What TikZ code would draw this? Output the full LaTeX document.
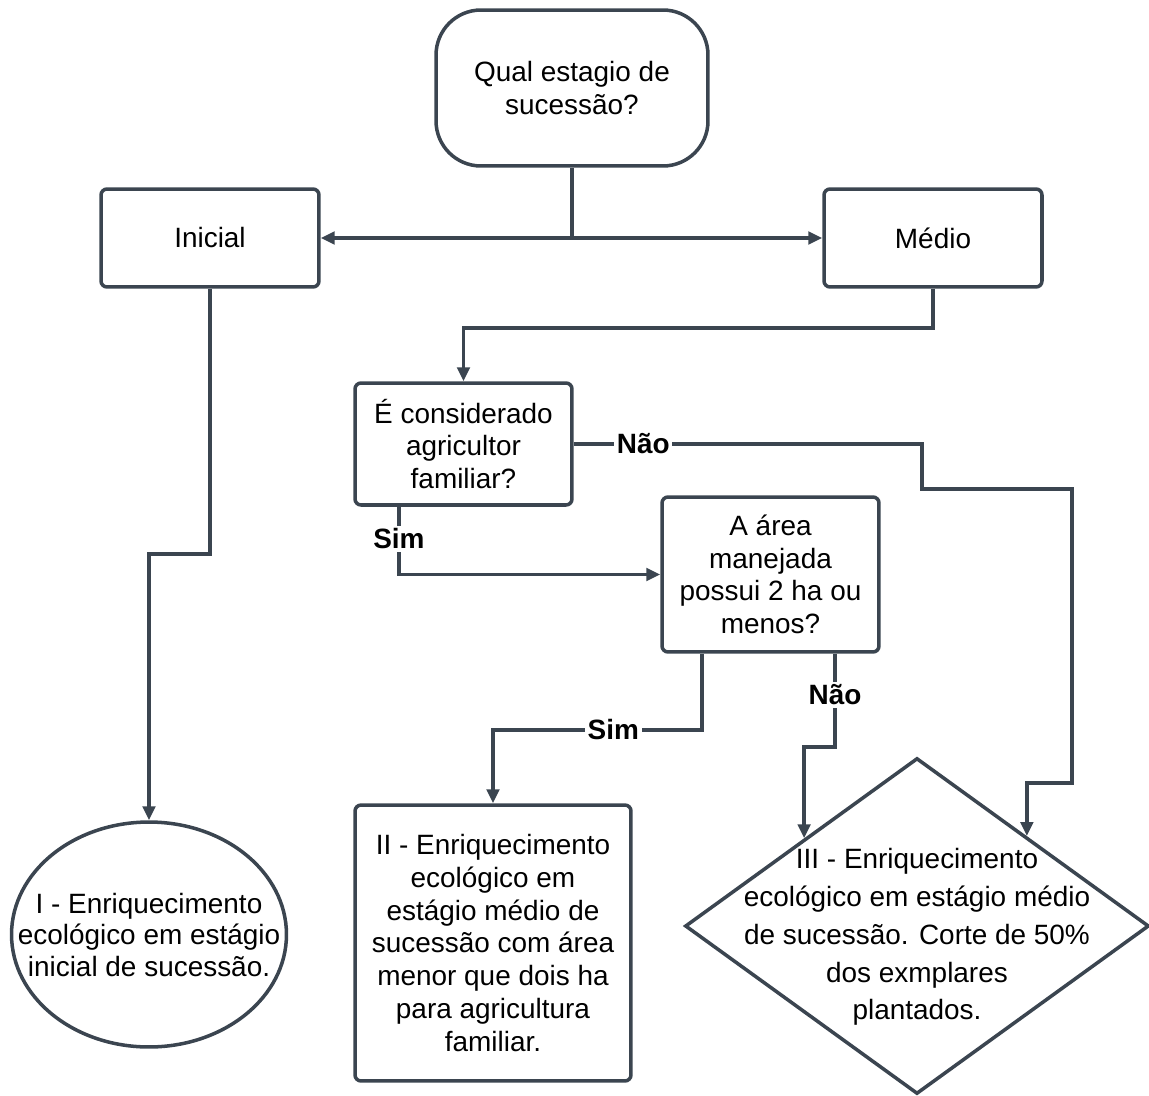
\documentclass[tikz,border=0pt]{standalone}
\usepackage{fontspec}
\setmainfont{Liberation Sans}
\usetikzlibrary{arrows.meta,shapes.geometric,calc}
\definecolor{linec}{RGB}{59,69,80}
\begin{document}
\begin{tikzpicture}[x=0.02cm,y=-0.02cm,
 every node/.style={font=\fontsize{15.9pt}{18.6pt}\selectfont, text=black},
 box/.style={draw=linec, line width=2pt, rounded corners=0.12cm, fill=white, align=center, inner sep=0pt},
 arr/.style={draw=linec, line width=2pt, -{Triangle[length=0.28cm,width=0.25cm]}},
 ln/.style={draw=linec, line width=2pt},
 lbl/.style={font=\bfseries\fontsize{15.9pt}{18.8pt}\selectfont, fill=white, inner sep=1.5pt}]
\useasboundingbox (0,0) rectangle (1149,1095);

\node[box, rounded corners=0.9cm, minimum width=5.44cm, minimum height=3.12cm] (q) at (572,88) {Qual estagio de\\sucessão?};
\node[box, minimum width=4.36cm, minimum height=1.96cm] (ini) at (210,238) {Inicial};
\node[box, minimum width=4.36cm, minimum height=1.96cm] (med) at (933,238) {Médio};
\node[box, minimum width=4.34cm, minimum height=2.44cm] (e) at (463.5,444) {É considerado\\agricultor\\familiar?};
\node[box, minimum width=4.34cm, minimum height=3.1cm] (a) at (770.5,574.5) {A área\\manejada\\possui 2 ha ou\\menos?};
\node[box, minimum width=5.52cm, minimum height=5.52cm] (ii) at (493,943) {II - Enriquecimento\\ecológico em\\estágio médio de\\sucessão com área\\menor que dois ha\\para agricultura\\familiar.};
\node[ellipse, draw=linec, line width=2pt, fill=white, minimum width=5.5cm, minimum height=4.5cm, inner sep=0pt] (c1) at (149,934.5) {};
\node[align=center, inner sep=0pt, font=\fontsize{15.9pt}{17.9pt}\selectfont] (c1t) at (149,935) {I - Enriquecimento\\ecológico em estágio\\inicial de sucessão.};
\node[diamond, draw=linec, line width=2pt, fill=white, minimum width=9.28cm, minimum height=6.72cm, inner sep=0pt] (d3) at (917,926) {};
\node[align=center, inner sep=0pt, font=\fontsize{15.9pt}{21.5pt}\selectfont] (d3t) at (917,937) {III - Enriquecimento\\ecológico em estágio médio\\de sucessão. Corte de 50\%\\dos exmplares\\plantados.};

\draw[ln] (q.south) -- (q.south |- ini.east) coordinate (sp);
\draw[arr] (sp) -- (ini.east);
\draw[arr] (sp) -- (med.west);
\draw[arr] (med.south) -- ++(0,39) -| (e.north);
\draw[arr] (e.east) -- node[lbl,pos=0.2]{Não} ++(348,0) -- ++(0,45) -- ++(150,0) -- ++(0,294) -| ($(d3.north)!0.47!(d3.east)$);
\coordinate (es) at ($(e.south west)!0.207!(e.south east)$);
\draw[arr] (es) |- node[lbl,pos=0.236]{Sim} (a.west);
\coordinate (as) at ($(a.south west)!0.189!(a.south east)$);
\draw[arr] (as) -- ++(0,76) -| node[lbl,pos=0.212]{Sim} (ii.north);
\coordinate (an) at ($(a.south west)!0.793!(a.south east)$);
\draw[arr] (an) -- node[lbl,pos=0.44]{Não} ++(0,93) -| ($(d3.north)!0.483!(d3.west)$);
\draw[arr] (ini.south) -- ++(0,265) -| (c1.north);
\end{tikzpicture}
\end{document}
